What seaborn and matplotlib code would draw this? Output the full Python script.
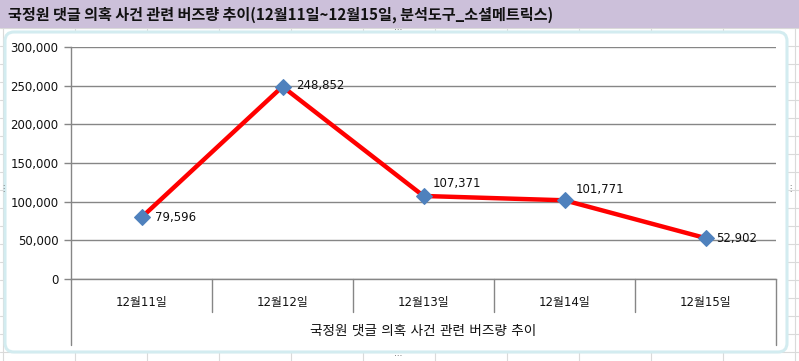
import matplotlib
matplotlib.use("Agg")
import matplotlib.pyplot as plt
from matplotlib.patches import FancyBboxPatch, Rectangle
from matplotlib.ticker import FuncFormatter
import pandas as pd
import seaborn as sns

# 데이터
dates = ['12월11일', '12월12일', '12월13일', '12월14일', '12월15일']
buzz = [79596, 248852, 107371, 101771, 52902]
y_ticks = [0, 50000, 100000, 150000, 200000, 250000, 300000]

title = '국정원 댓글 의혹 사건 관련 버즈량 추이(12월11일~12월15일, 분석도구_소셜메트릭스)'
x_title = '국정원 댓글 의혹 사건 관련 버즈량 추이'

sns.set_style("white")
plt.rcParams['font.family'] = ['DejaVu Sans', 'Noto Sans CJK KR']
kr = ['Noto Sans CJK KR', 'DejaVu Sans']

W, H = 799, 361
fig = plt.figure(figsize=(W / 100, H / 100), dpi=100)

# 엑셀 시트 배경
bg = fig.add_axes([0, 0, 1, 1])
bg.set_xlim(0, W)
bg.set_ylim(H, 0)
bg.axis('off')
for cx in range(3, W, 72):
    bg.axvline(cx, color='#DADADA', lw=0.8, zorder=0)
for ry in range(28, H, 18):
    bg.axhline(ry, color='#DADADA', lw=0.8, zorder=0)
bg.add_patch(Rectangle((0, 0), W, 28, facecolor='#CCC0DA', edgecolor='none', zorder=1))
bg.text(8, 15, title, fontsize=10.9, fontweight='bold', va='center', ha='left',
        color='#111111', family=kr, zorder=3)
bg.add_patch(FancyBboxPatch((5, 32), 782, 320, boxstyle='round,pad=0,rounding_size=9',
                            facecolor='white', edgecolor='#D3ECF0', lw=2.2, zorder=1))
for px, py in [(398, 30), (398, 355), (3, 188), (790, 188)]:
    bg.text(px, py, '⋯' if py in (30, 355) else '⋮', fontsize=6, color='#777777',
            ha='center', va='center', zorder=3)

# 차트
left, right = 71 / W, 776 / W
bottom, top = 1 - 279 / H, 1 - 47 / H
ax = fig.add_axes([left, bottom, right - left, top - bottom])
ax.set_facecolor('none')

df = pd.DataFrame({'date': dates, 'buzz': buzz})
df['pos'] = range(len(df))
sns.lineplot(data=df, x='pos', y='buzz', ax=ax, color='#FF0000', lw=3.2,
             marker='D', markersize=8.5, markerfacecolor='#4F81BD',
             markeredgecolor='#4F81BD', zorder=3)

ax.set_xlim(-0.5, len(dates) - 0.5)
ax.set_ylim(0, 300000)
ax.set_yticks(y_ticks)
ax.yaxis.set_major_formatter(FuncFormatter(lambda v, p: f'{int(v):,}'))
ax.grid(axis='y', color='#868686', lw=1)
ax.grid(axis='x', visible=False)
ax.set_xticks(range(len(dates)))
ax.set_xticklabels(dates)
ax.tick_params(axis='x', length=0, pad=12, labelsize=8.5, colors='#111111')
ax.tick_params(axis='y', length=5, width=1, color='#868686', pad=4, labelsize=8.5,
               labelcolor='#111111', left=True)
ax.set_xlabel('')
ax.set_ylabel('')
for s in ['top', 'right']:
    ax.spines[s].set_visible(False)
for s in ['left', 'bottom']:
    ax.spines[s].set_color('#868686')
    ax.spines[s].set_linewidth(1)

# 카테고리 구분선
trans = ax.get_xaxis_transform()
for i in range(len(dates) + 1):
    b = i - 0.5
    low = -0.284 if i in (0, len(dates)) else -0.142
    ax.plot([b, b], [0, low], transform=trans, color='#868686', lw=1, clip_on=False)

ax.text(0.5, -0.224, x_title, transform=ax.transAxes, ha='center', va='center',
        fontsize=9.8, color='#111111')

# 데이터 레이블
offsets = [(10, 0), (10, 1), (6.5, 9), (8, 8), (8, 0)]
for i, (v, off) in enumerate(zip(buzz, offsets)):
    ax.annotate(f'{v:,}', (i, v), xytext=off, textcoords='offset points',
                ha='left', va='center', fontsize=8.5, color='#111111')

fig.savefig('out.png', dpi=100)
